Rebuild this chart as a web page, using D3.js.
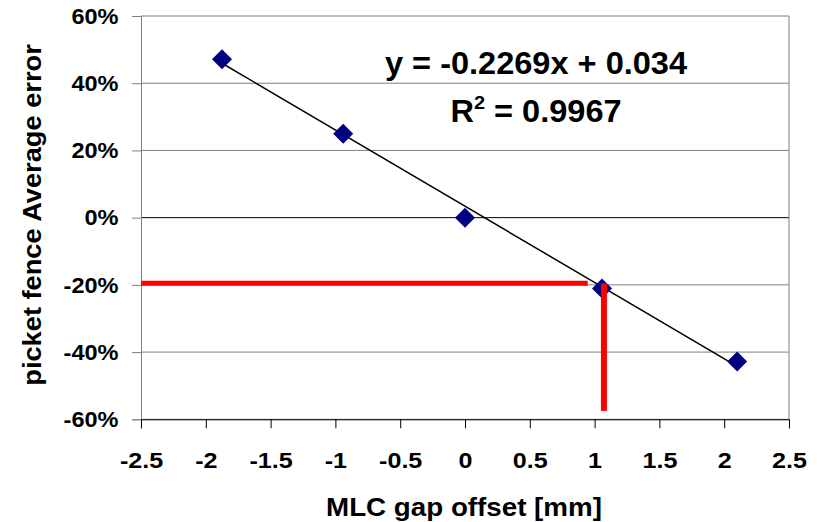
<!DOCTYPE html>
<html>
<head>
<meta charset="utf-8">
<script src="https://cdn.jsdelivr.net/npm/d3@7"></script>
<style>
  body { margin: 0; background: #fff; }
  text { font-family: "Liberation Sans", Arial, sans-serif; font-weight: bold; fill: #000; }
</style>
</head>
<body>
<div id="chart"></div>
<script>
// measured points
const gapOffset = [-1.875, -0.94, 0.0, 1.057, 2.1];
const avgError = [0.471, 0.25, 0.0, -0.211, -0.428];

// linear trend shown on the chart
const slope = -0.2269;
const intercept = 0.034;
const eqText = "y = -0.2269x + 0.034";
const r2Text = "0.9967";

// red read-off lines
const readX = [-2.5, 0.947];   // horizontal line from/to
const readY = -0.1955;
const vertX = 1.072;
const vertY = [-0.1955, -0.575];

const xTicks = [-2.5, -2, -1.5, -1, -0.5, 0, 0.5, 1, 1.5, 2, 2.5];
const yTicks = [-0.6, -0.4, -0.2, 0, 0.2, 0.4, 0.6];

const W = 817, H = 522;
const m = {top: 16, right: 28, bottom: 102.7, left: 141};
const w = W - m.left - m.right;
const h = H - m.top - m.bottom;

const svg = d3.select("#chart").append("svg")
    .attr("width", W)
    .attr("height", H);

const g = svg.append("g").attr("transform", "translate(" + m.left + "," + m.top + ")");

const x = d3.scaleLinear().domain([-2.5, 2.5]).range([0, w]);
const y = d3.scaleLinear().domain([-0.6, 0.6]).range([h, 0]);

// stretch text horizontally (the original font renders wider)
function stretch(sel, sx, rot) {
    sel.each(function () {
        const t = d3.select(this);
        const tx = +t.attr("x") || 0, ty = +t.attr("y") || 0;
        t.attr("x", 0).attr("y", 0)
            .attr("transform", "translate(" + tx + "," + ty + ")" + (rot ? " rotate(" + rot + ")" : "") + " scale(" + sx + ",1)");
    });
}

// plain hyphen instead of unicode minus
const pct = d => d3.format(".0%")(d).replace("−", "-");
const num = d => d3.format("")(d).replace("−", "-");

// gridlines
g.selectAll(".grid")
    .data(yTicks)
    .enter()
    .append("line")
    .attr("x1", 0)
    .attr("x2", w)
    .attr("y1", d => y(d))
    .attr("y2", d => y(d))
    .attr("stroke", d => d === 0 ? "#000" : "#808080")
    .attr("stroke-width", 1);

// right border
g.append("line")
    .attr("x1", w).attr("x2", w)
    .attr("y1", 0).attr("y2", h)
    .attr("stroke", "#808080");

// y axis
const yAxis = g.append("g")
    .call(d3.axisLeft(y).tickValues(yTicks).tickSize(9).tickFormat(pct));
yAxis.select(".domain").attr("stroke", "#808080");
yAxis.selectAll(".tick line").attr("stroke", "#808080");
yAxis.selectAll("text")
    .attr("font-size", 22)
    .attr("fill", "#000")
    .attr("dy", "0.33em")
    .attr("x", -22.5);
stretch(yAxis.selectAll("text"), 1.07);

// x axis
const xAxis = g.append("g")
    .attr("transform", "translate(0," + h + ")")
    .call(d3.axisBottom(x).tickValues(xTicks).tickSize(9).tickFormat(num));
xAxis.select(".domain").attr("stroke", "#000");
xAxis.selectAll(".tick line").attr("stroke", "#000");
xAxis.selectAll("text")
    .attr("font-size", 22)
    .attr("fill", "#000")
    .attr("dy", 0)
    .attr("y", 48.7);
stretch(xAxis.selectAll("text"), 1.14);

// red read-off lines
g.append("line")
    .attr("x1", x(readX[0])).attr("x2", x(readX[1]))
    .attr("y1", y(readY)).attr("y2", y(readY))
    .attr("stroke", "#ff0000")
    .attr("stroke-width", 5);

// trend line
g.append("line")
    .attr("x1", x(d3.min(gapOffset)))
    .attr("x2", x(d3.max(gapOffset)))
    .attr("y1", y(slope * d3.min(gapOffset) + intercept))
    .attr("y2", y(slope * d3.max(gapOffset) + intercept))
    .attr("stroke", "#000")
    .attr("stroke-width", 1.5);

// markers
g.selectAll(".pt")
    .data(gapOffset)
    .enter()
    .append("path")
    .attr("class", "pt")
    .attr("d", d3.symbol(d3.symbolSquare, 200))
    .attr("transform", (d, i) => "translate(" + x(d) + "," + y(avgError[i]) + ") rotate(45)")
    .attr("fill", "#000080");

g.append("line")
    .attr("x1", x(vertX)).attr("x2", x(vertX))
    .attr("y1", y(vertY[0])).attr("y2", y(vertY[1]))
    .attr("stroke", "#ff0000")
    .attr("stroke-width", 6);

// equation labels
const eq = svg.append("text")
    .attr("x", 536)
    .attr("y", 74)
    .attr("text-anchor", "middle")
    .attr("font-size", 31)
    .text(eqText);
stretch(eq, 1.05);

const r2 = svg.append("text")
    .attr("x", 536)
    .attr("y", 122)
    .attr("text-anchor", "middle")
    .attr("font-size", 31);
r2.append("tspan").text("R");
r2.append("tspan").attr("font-size", 19).attr("dy", -13).text("2");
r2.append("tspan").attr("dy", 13).text(" = " + r2Text);
stretch(r2, 1.05);

// axis titles
const xt = svg.append("text")
    .attr("x", 464)
    .attr("y", 516)
    .attr("text-anchor", "middle")
    .attr("font-size", 25)
    .text("MLC gap offset [mm]");
stretch(xt, 1.11);

const yt = svg.append("text")
    .attr("x", 41)
    .attr("y", 215)
    .attr("text-anchor", "middle")
    .attr("font-size", 25)
    .text("picket fence Average error");
stretch(yt, 1.09, -90);
</script>
</body>
</html>
